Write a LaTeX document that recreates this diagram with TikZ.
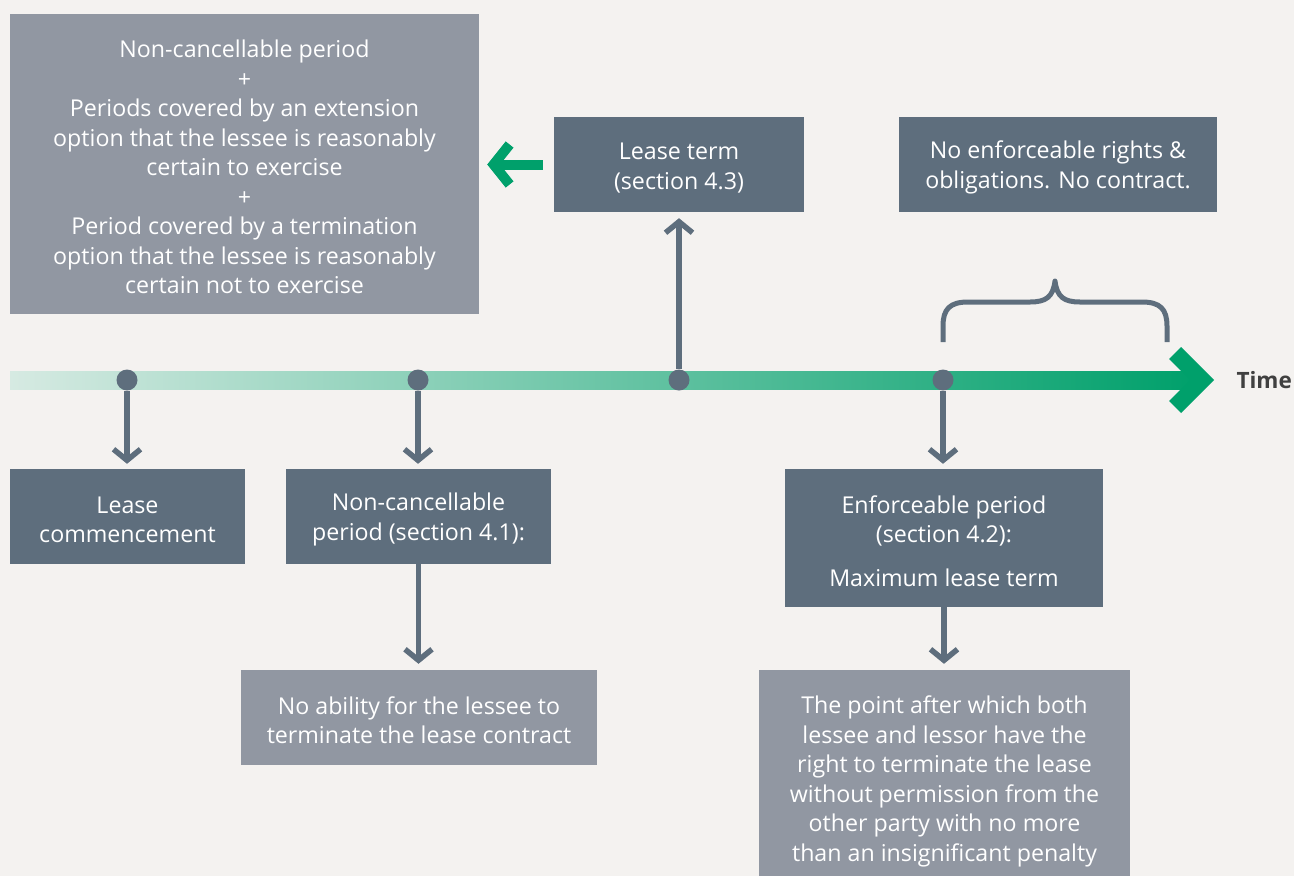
\documentclass[tikz,border=0pt]{standalone}
\usepackage{fontspec}
\setmainfont{Open Sans}
\usetikzlibrary{arrows.meta}

\definecolor{bg}{RGB}{244,242,240}
\definecolor{slate}{RGB}{94,110,125}
\definecolor{mist}{RGB}{145,151,162}
\definecolor{leaf}{RGB}{0,160,107}
\definecolor{leafpale}{RGB}{214,234,226}
\definecolor{ink}{RGB}{64,64,64}

% taller first line, so the text block sits a little lower in its box
\newcommand\tallstrut{\rule{0pt}{23.5pt}}

\tikzset{
  box/.style={inner sep=0pt, text=white, align=center,
              font=\fontsize{23.2}{29.5}\selectfont},
  darkbox/.style={box, fill=slate},
  lightbox/.style={box, fill=mist},
  dot/.style={circle, fill=slate, minimum size=21pt, inner sep=0pt},
  link/.style={draw=slate, line width=5.5pt,
               -{Straight Barb[length=11pt,width=27pt]}},
}

\begin{document}
\begin{tikzpicture}[x=1pt,y=-1pt]
  % canvas
  \fill[bg] (0,0) rectangle (1294,876);
  \useasboundingbox (0,0) rectangle (1294,876);

  % time axis: shaded bar with a chevron head
  \shade[left color=leafpale, right color=leaf] (10,371) rectangle (1195,389);
  \fill[leaf] (1169,359) -- (1181,347) -- (1214,380) -- (1181,413)
              -- (1169,401) -- (1190,380) -- cycle;
  \node[font=\bfseries\fontsize{22.5}{26}\selectfont, text=ink, anchor=west]
    (time) at (1233,380) {Time};

  % brace over the period after the enforceable term
  \draw[slate, line width=5pt, line join=round]
    (943,342) -- (943,326) .. controls (943,309) and (950,302) .. (968,302)
    -- (1030,302) .. controls (1046,302) and (1053,297) .. (1055,281)
    .. controls (1057,297) and (1064,302) .. (1080,302)
    -- (1142,302) .. controls (1160,302) and (1167,309) .. (1167,326)
    -- (1167,342);

  % boxes
  \node[lightbox, minimum width=469pt, minimum height=300pt] (tl) at (244.5,164)
    {\tallstrut Non-cancellable period\\+\\Periods covered by an extension\\
     option that the lessee is reasonably\\certain to exercise\\+\\
     Period covered by a termination\\option that the lessee is reasonably\\
     certain not to exercise};
  \node[darkbox, minimum width=250pt, minimum height=95pt] (lt) at (679,164.5)
    {\tallstrut Lease term\\(section 4.3)};
  \node[darkbox, minimum width=318pt, minimum height=95pt] (ne) at (1058,164.5)
    {\tallstrut No enforceable rights \&\\obligations. No contract.};
  \node[darkbox, minimum width=235pt, minimum height=95pt] (lc) at (127.5,516.5)
    {\tallstrut Lease\\commencement};
  \node[darkbox, minimum width=265pt, minimum height=95pt] (nc) at (418.5,516.5)
    {\tallstrut Non-cancellable\\period (section 4.1):};
  \node[lightbox, minimum width=356pt, minimum height=95pt] (na) at (419,717.5)
    {\tallstrut No ability for the lessee to\\terminate the lease contract};
  \node[darkbox, minimum width=318pt, minimum height=138pt] (ep) at (944,538)
    {\tallstrut Enforceable period\\(section 4.2):\\[14pt]Maximum lease term};
  \node[lightbox, minimum width=371pt, minimum height=217pt] (pt) at (944.5,778.5)
    {\tallstrut The point after which both\\lessee and lessor have the\\
     right to terminate the lease\\without permission from the\\
     other party with no more\\than an insignificant penalty};

  % points on the axis
  \node[dot] (d1) at (127,380) {};
  \node[dot] (d2) at (418,380) {};
  \node[dot] (d3) at (679,380) {};
  \node[dot] (d4) at (943,380) {};

  % connectors
  \draw[link, shorten >=5pt] (d1.south) -- (d1.south |- lc.north);
  \draw[link, shorten >=5pt] (d2.south) -- (d2.south |- nc.north);
  \draw[link, shorten >=6pt] (d3.north) -- (d3.north |- lt.south);
  \draw[link, shorten >=5pt] (d4.south) -- (d4.south |- ep.north);
  \draw[link, shorten >=6pt] (nc.south) -- (nc.south |- na.north);
  \draw[link, shorten >=6pt] (ep.south) -- (ep.south |- pt.north);

  % lease term feeds the composition on the left
  \draw[leaf, line width=10pt, -{Straight Barb[length=16pt,width=40pt]},
        shorten >=8pt, shorten <=11pt] (lt.west) -- (lt.west -| tl.east);
\end{tikzpicture}
\end{document}
